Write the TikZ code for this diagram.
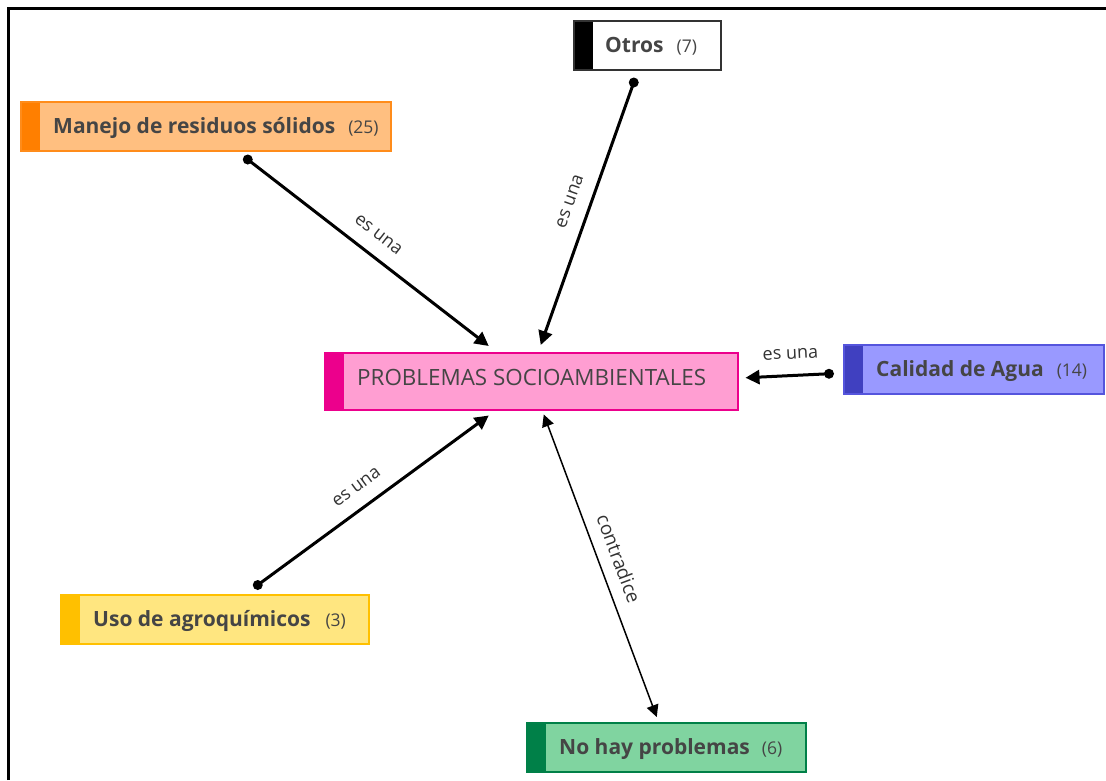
\documentclass[tikz,border=0pt]{standalone}
\usepackage{fontspec}
\setmainfont{Open Sans}
\usetikzlibrary{arrows.meta,calc}
\definecolor{txt}{HTML}{454545}
\definecolor{orS}{HTML}{FF7F00}\definecolor{orF}{HTML}{FFBF80}\definecolor{orB}{HTML}{FF8C1A}
\definecolor{pkS}{HTML}{EC008C}\definecolor{pkF}{HTML}{FF9ED2}\definecolor{pkB}{HTML}{EC008C}
\definecolor{blS}{HTML}{4040C0}\definecolor{blF}{HTML}{9999FF}\definecolor{blB}{HTML}{5555DD}
\definecolor{yeS}{HTML}{FFC000}\definecolor{yeF}{HTML}{FFE680}\definecolor{yeB}{HTML}{FFC000}
\definecolor{grS}{HTML}{008048}\definecolor{grF}{HTML}{80D4A0}\definecolor{grB}{HTML}{008048}
\definecolor{bkS}{HTML}{000000}\definecolor{bkF}{HTML}{FFFFFF}\definecolor{bkB}{HTML}{333333}
\newcommand\cntfont{\fontsize{17.5}{20}\selectfont\mdseries}
\tikzset{
  cbox/.style={draw=#1B, fill=#1F, line width=1.5pt, anchor=north west, inner sep=0pt,
    minimum height=49pt,
    path picture={\fill[#1S] (path picture bounding box.south west) rectangle ([xshift=19pt]path picture bounding box.north west);}},
  btxt/.style={anchor=base west, inner sep=0pt, text=txt, font=\fontsize{21}{24}\selectfont\bfseries},
  conn/.style={line width=3pt, -{Triangle[length=14pt,width=14pt]}},
  dconn/.style={line width=1.5pt, {Triangle[length=12pt,width=12pt]}-{Triangle[length=12pt,width=12pt]}},
  elbl/.style={sloped, inner sep=0pt, text=black!80, font=\fontsize{18}{21}\selectfont},
  dot/.style={fill=black}
}
\begin{document}
\begin{tikzpicture}[x=1pt,y=-1pt]
\useasboundingbox (0,0) rectangle (1106,780);
\fill[white] (0,0) rectangle (1106,780);
\draw[line width=3pt] (8,780) -- (8,8) -- (1106,8);

% boxes
\node[cbox=or, minimum width=370pt] (manejo) at (20,101) {};
\node[cbox=bk, minimum width=147pt] (otros) at (573,20) {};
\node[cbox=pk, minimum width=413pt, minimum height=57pt] (prob) at (324,352) {};
\node[cbox=bl, minimum width=260pt] (calidad) at (843,344) {};
\node[cbox=ye, minimum width=308pt] (uso) at (60,594) {};
\node[cbox=gr, minimum width=279pt] (nohay) at (526,722) {};

% texts
\node[btxt] (manejo-t) at ($(manejo.west)+(33,7)$) {Manejo de residuos sólidos\hspace{13pt}{\cntfont (25)}};
\node[btxt] (otros-t) at ($(otros.west)+(32,7)$) {Otros\hspace{13pt}{\cntfont (7)}};
\node[btxt, font=\fontsize{22.4}{26}\selectfont\mdseries] (prob-t) at ($(prob.west)+(33,4)$) {PROBLEMAS SOCIOAMBIENTALES};
\node[btxt] (calidad-t) at ($(calidad.west)+(33,7.5)$) {Calidad de Agua\hspace{13pt}{\cntfont (14)}};
\node[btxt] (uso-t) at ($(uso.west)+(33,7)$) {Uso de agroquímicos\hspace{15pt}{\cntfont (3)}};
\node[btxt] (nohay-t) at ($(nohay.west)+(33,7)$) {No hay problemas\hspace{12pt}{\cntfont (6)}};

% connector ends
\coordinate (mA) at ($(manejo.south)+(42,8)$);
\coordinate (mB) at ($(prob.north)+(-42.5,-6)$);
\coordinate (oA) at ($(otros.south)+(-13.5,12)$);
\coordinate (oB) at ($(prob.north)+(9.5,-7)$);
\coordinate (cA) at ($(calidad.west)+(-14,4.5)$);
\coordinate (cB) at ($(prob.east)+(7,-3.5)$);
\coordinate (uA) at ($(uso.north)+(43,-9)$);
\coordinate (uB) at ($(prob.south)+(-42.5,5)$);
\coordinate (pA) at ($(prob.south)+(12.5,4)$);
\coordinate (pB) at ($(nohay.north)+(-9.5,-5)$);

\draw[conn] (mA) -- node[elbl, above=14pt, pos=0.49] (l1) {es una} (mB);
\draw[conn] (oA) -- node[elbl, above=14pt, pos=0.48] (l2) {es una} (oB);
\draw[conn] (cA) -- node[elbl, above=15pt, pos=0.45] (l3) {es una} (cB);
\draw[conn] (uA) -- node[elbl, above=14pt, pos=0.48] (l4) {es una} (uB);
\draw[dconn] (pA) -- node[elbl, above=12pt, pos=0.5, font=\fontsize{19}{22}\selectfont] (l5) {contradice} (pB);

\fill[dot] (mA) circle (5pt);
\fill[dot] (oA) circle (5pt);
\fill[dot] (cA) circle (5pt);
\fill[dot] (uA) circle (5pt);
\end{tikzpicture}
\end{document}
